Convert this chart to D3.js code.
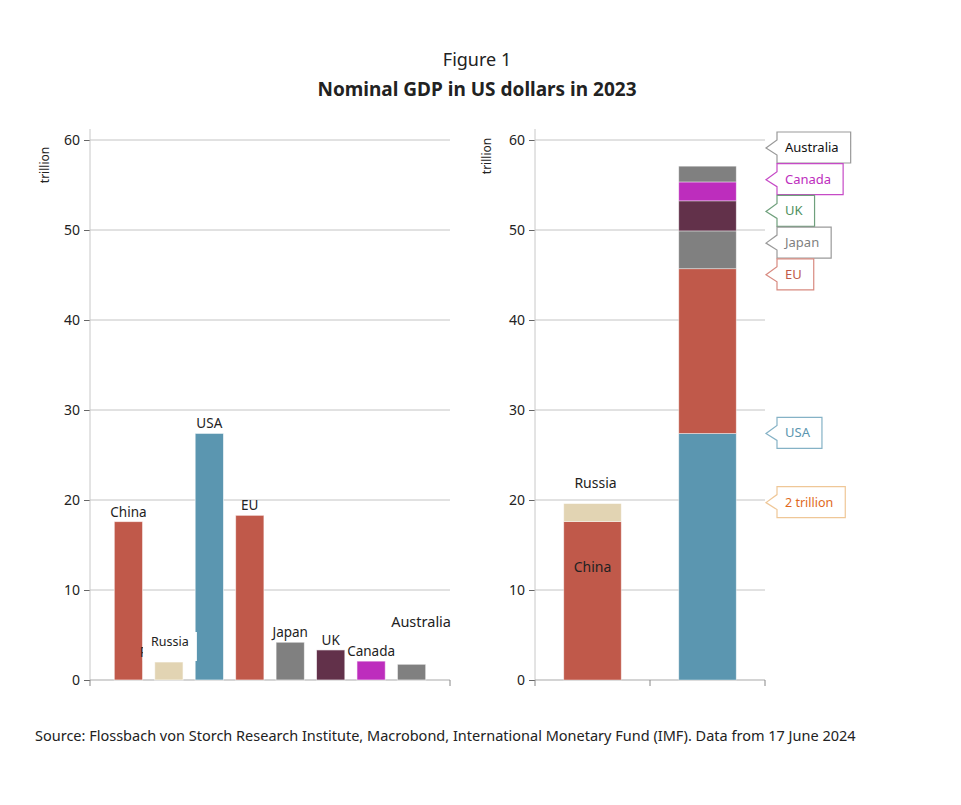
<!DOCTYPE html>
<html>
<head>
<meta charset="utf-8">
<script src="https://cdn.jsdelivr.net/npm/d3@7"></script>
<style>
	body { margin: 0; background: #fff; }
	text { font-family: "Noto Sans", sans-serif; fill: #222; }
</style>
</head>
<body>
<div id="content"></div>
<script>
// data (trillion US dollars, 2023)
var countries = ["China", "Russia", "USA", "EU", "Japan", "UK", "Canada", "Australia"];
var gdp = [17.6, 2.0, 27.4, 18.3, 4.2, 3.34, 2.1, 1.75];
var barColors = ["#c0594a", "#e2d4b3", "#5b96b0", "#c0594a", "#808080", "#62314a", "#bd2dbd", "#808080"];
var stackNames = ["left", "right"];
var stackMembers = [["China", "Russia"], ["USA", "EU", "Japan", "UK", "Canada", "Australia"]];
var yTicks = [0, 10, 20, 30, 40, 50, 60];
var calloutNames = ["Australia", "Canada", "UK", "Japan", "EU"];
var calloutText = ["#111", "#bd2dbd", "#4f9060", "#808080", "#c0594a"];
var calloutLine = ["#999", "#c64ac6", "#6fa07c", "#9a9a9a", "#d88a80"];

var W = 961, H = 805;
var svg = d3.select("#content").append("svg")
	.attr("width", W)
	.attr("height", H);

function value_of(name){
	return gdp[countries.indexOf(name)];
}
function color_of(name){
	return barColors[countries.indexOf(name)];
}

/* Titles */
svg.append("text")
	.attr("x", 477).attr("y", 66)
	.attr("text-anchor", "middle")
	.style("font-size", "18px")
	.text("Figure 1");
svg.append("text")
	.attr("x", 477).attr("y", 96)
	.attr("text-anchor", "middle")
	.style("font-size", "19px")
	.style("font-weight", "bold")
	.text("Nominal GDP in US dollars in 2023");

svg.append("text")
	.attr("x", 35).attr("y", 741)
	.style("font-size", "14.5px")
	.text("Source: Flossbach von Storch Research Institute, Macrobond, International Monetary Fund (IMF). Data from 17 June 2024");

var y = d3.scaleLinear().domain([0, 60]).range([680, 140]);

/* shared frame for both panels */
function draw_frame(x0, x1, ticksX, labelX, labelY){
	var g = svg.append("g");
	g.selectAll(".grid").data(yTicks.slice(1)).enter().append("line")
		.attr("x1", x0).attr("x2", x1)
		.attr("y1", function(d){ return y(d); })
		.attr("y2", function(d){ return y(d); })
		.attr("style", "stroke:#c4c4c4; stroke-width:1px;");

	var ax = g.append("g")
		.attr("transform", "translate(" + x0 + ",0)")
		.call(d3.axisLeft(y).tickValues(yTicks).tickSize(6).tickPadding(4));
	ax.select(".domain").remove();
	ax.selectAll(".tick line").attr("stroke", "#666");
	ax.selectAll(".tick text")
		.style("font-size", "14px")
		.style("font-family", "Noto Sans, sans-serif")
		.attr("fill", "#222");

	g.append("line")
		.attr("x1", x0).attr("x2", x0)
		.attr("y1", 129).attr("y2", y(0))
		.attr("style", "stroke:#c8c8c8; stroke-width:1px;");
	g.append("line")
		.attr("x1", x0).attr("x2", x1)
		.attr("y1", y(0)).attr("y2", y(0))
		.attr("style", "stroke:#aaa; stroke-width:1.2px;");
	g.selectAll(".xt").data(ticksX).enter().append("line")
		.attr("x1", function(d){ return d; })
		.attr("x2", function(d){ return d; })
		.attr("y1", y(0)).attr("y2", y(0) + 6)
		.attr("style", "stroke:#888; stroke-width:1px;");

	g.append("text")
		.attr("transform", "translate(" + labelX + "," + labelY + ") rotate(-90)")
		.attr("text-anchor", "middle")
		.style("font-size", "12px")
		.text("trillion");
	return g;
}

/* Left panel: one bar per economy */
var xL = d3.scaleBand().domain(countries).range([90, 450]).paddingInner(0.3).paddingOuter(0.6);
draw_frame(90, 450, [90, 450], 49, 165);

svg.append("g").selectAll("rect").data(countries).enter().append("rect")
	.attr("x", function(d){ return xL(d); })
	.attr("width", xL.bandwidth())
	.attr("y", function(d){ return y(value_of(d)); })
	.attr("height", function(d){ return y(0) - y(value_of(d)); })
	.attr("fill", function(d){ return color_of(d); })
	.attr("style", "stroke:#fff; stroke-opacity:0.6; stroke-width:1px;");

var plain = ["China", "USA", "EU", "Japan", "UK", "Canada"];
svg.append("g").selectAll("text").data(plain).enter().append("text")
	.attr("x", function(d){ return xL(d) + xL.bandwidth() / 2; })
	.attr("y", function(d){ return y(value_of(d)) - 5; })
	.attr("text-anchor", "middle")
	.style("font-size", "13.5px")
	.text(function(d){ return d; });

// Russia: the first letter of the original label peeks out behind a white tag
svg.append("text")
	.attr("x", xL("Russia") - 15).attr("y", 657)
	.style("font-size", "14px")
	.text("R");
var rx = xL("Russia") + xL.bandwidth() / 2;
svg.append("rect")
	.attr("x", rx - 26).attr("y", 632)
	.attr("width", 54).attr("height", 29)
	.attr("fill", "#fff");
svg.append("text")
	.attr("x", rx + 1).attr("y", 646)
	.attr("text-anchor", "middle")
	.style("font-size", "12.5px")
	.text("Russia");

svg.append("text")
	.attr("x", 451).attr("y", 627)
	.attr("text-anchor", "end")
	.style("font-size", "14.5px")
	.text("Australia");

/* Right panel: stacked */
var xR = d3.scaleBand().domain(stackNames).range([535, 765]).paddingInner(0.5).paddingOuter(0.25);
draw_frame(535, 765, [535, 650, 765], 491, 156);

var segs = [];
stackMembers.forEach(function(list, i){
	var tops = d3.cumsum(list.map(value_of));
	list.forEach(function(name, j){
		segs.push({stack: stackNames[i], name: name, y0: j ? tops[j - 1] : 0, y1: tops[j]});
	});
});

svg.append("g").selectAll("rect").data(segs).enter().append("rect")
	.attr("x", function(d){ return xR(d.stack); })
	.attr("width", xR.bandwidth())
	.attr("y", function(d){ return y(d.y1); })
	.attr("height", function(d){ return y(d.y0) - y(d.y1); })
	.attr("fill", function(d){ return color_of(d.name); })
	.attr("style", "stroke:#fff; stroke-opacity:0.5; stroke-width:0.8px;");

var cL = xR("left") + xR.bandwidth() / 2;
var leftTop = d3.sum(stackMembers[0].map(value_of));
svg.append("text")
	.attr("x", cL + 3).attr("y", y(leftTop) - 16)
	.attr("text-anchor", "middle")
	.style("font-size", "14px")
	.text("Russia");
svg.append("text")
	.attr("x", cL).attr("y", y(value_of("China")) + 50)
	.attr("text-anchor", "middle")
	.style("font-size", "14px")
	.text("China");

/* callouts */
function callout(tipY, label, txtColor, lineColor, fontSize){
	var tipX = 766, left = 777, top = tipY - 16, h = 31;
	var g = svg.append("g");
	var t = g.append("text")
		.attr("x", left + 8).attr("y", top + 20)
		.style("font-size", fontSize)
		.attr("fill", txtColor)
		.style("fill", txtColor)
		.text(label);
	var w = t.node().getComputedTextLength() + 20;
	var path = "M" + left + "," + top + " H" + (left + w) + " V" + (top + h) + " H" + left +
		" V" + (tipY + 7) + " L" + tipX + "," + tipY + " L" + left + "," + (tipY - 8) + " Z";
	g.insert("path", "text")
		.attr("d", path)
		.attr("fill", "#fff")
		.attr("style", "stroke:" + lineColor + "; stroke-width:1.2px;");
}

calloutNames.forEach(function(n, i){
	callout(148 + i * 31.7, n, calloutText[i], calloutLine[i], "13px");
});
callout(y(value_of("USA")), "USA", "#5b96b0", "#85b2c6", "13px");
callout(y(leftTop) - 1, "2 trillion", "#e0691c", "#efc797", "12.5px");
</script>
</body>
</html>
